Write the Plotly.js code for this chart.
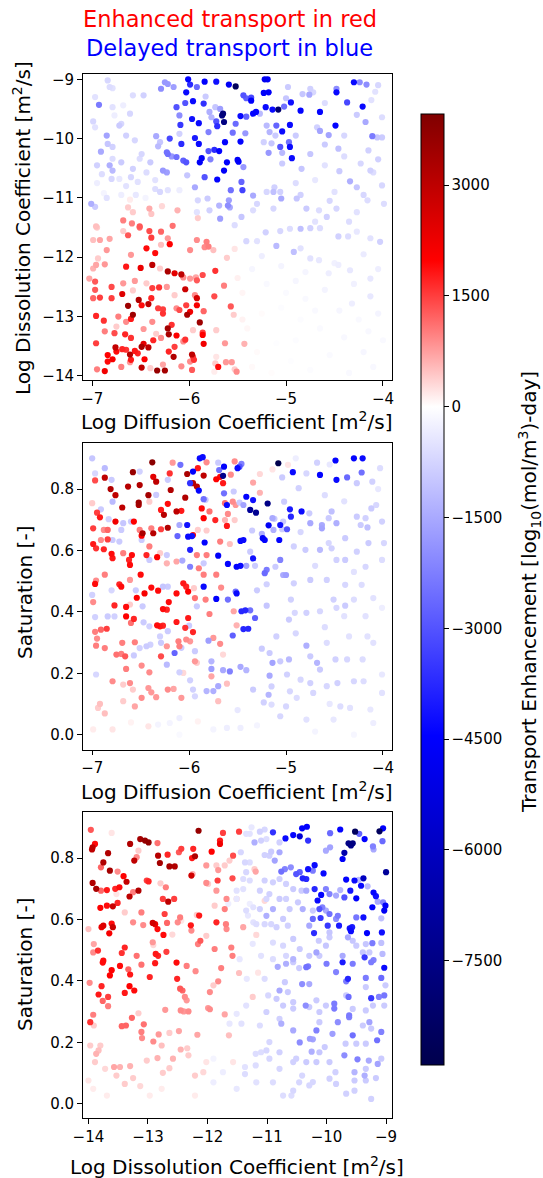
<!DOCTYPE html>
<html>
<head>
<meta charset="utf-8">
<script src="https://cdn.plot.ly/plotly-3.0.1.min.js"></script>
<style>html,body{margin:0;padding:0;background:#fff;}#chart{width:543px;height:1178px;}</style>
</head>
<body>
<div id="chart"></div>
<script>
// ---- DATA: [x, y, transport enhancement value] ----
// Panel 1: Log Diffusion Coefficient (x) vs Log Dissolution Coefficient (y)
const logD_logK_upper = [
[-6.84,-9.02,-700],[-6.82,-9.13,-600],[-6.79,-9.15,-500],[-6.97,-9.30,-500],[-6.93,-9.43,-2300],[-6.99,-9.71,-700],[-6.97,-9.81,-500],[-6.85,-9.95,-1600],[-6.84,-10.09,-1000],[-6.91,-10.22,-1500],[-6.79,-10.14,-800],[-6.72,-9.78,-900],[-6.70,-9.75,-700],[-6.79,-9.47,-500],[-6.77,-9.61,-300],[-6.68,-9.44,-300],[-6.61,-9.58,-700],[-6.58,-9.27,-600],[-6.47,-9.27,-800],[-6.65,-9.95,-800],[-6.56,-10.03,-700],[-6.49,-10.26,-700],[-6.51,-10.34,-600],[-6.79,-10.34,-600],[-6.82,-10.45,-1400],[-6.79,-10.54,-1200],[-6.80,-10.68,-700],[-6.58,-10.51,-800],[-6.72,-10.68,-400],[-6.53,-10.73,-500],[-6.44,-10.57,-600],[-7.01,-11.10,-1400],[-6.97,-11.15,-900],
[-6.95,-10.75,-300],[-6.88,-10.92,-200],[-6.70,-10.95,-300],[-6.45,-11.00,-200],
[-6.90,-10.60,-600],[-6.65,-10.80,-500],[-6.55,-10.95,-400],[-6.85,-11.00,-500],[-6.35,-10.70,-500],[-6.60,-10.65,-700],[-6.40,-10.40,-900],[-6.70,-10.40,-900],[-6.95,-10.45,-800],
[-6.61,-11.03,150],[-6.63,-11.16,400],[-6.58,-11.24,400],[-6.41,-11.18,650],[-6.39,-11.27,450],[-6.28,-11.14,300],[-6.12,-11.21,600],[-6.68,-11.38,1000],[-6.59,-11.43,1000],[-6.51,-11.48,1300],[-6.17,-11.47,1100],[-5.91,-11.34,400],[-6.96,-11.48,500],
[-6.29,-9.16,-2000],[-6.25,-9.05,-1800],[-6.22,-9.08,-1800],[-6.16,-9.13,-1700],[-6.01,-9.00,-4400],[-5.99,-9.09,-3700],[-6.03,-9.22,-4300],[-5.92,-9.13,-2600],[-5.84,-9.04,-4500],[-5.72,-9.04,-4200],[-5.59,-9.09,-4700],[-5.52,-9.12,-8500],[-5.83,-9.29,-900],[-5.96,-9.37,-4300],[-6.04,-9.40,-3000],[-6.13,-9.47,-3000],[-5.85,-9.41,-3600],[-5.73,-9.47,-1000],[-5.79,-9.55,-1400],[-6.10,-9.61,-2000],[-5.97,-9.67,-4200],[-6.09,-9.77,-3500],[-5.90,-9.74,-4300],[-5.80,-9.89,-2200],[-5.71,-9.79,-3700],[-5.65,-9.58,-7800],[-5.66,-9.61,-7600],[-5.64,-9.72,-7600],[-5.72,-9.71,-3000],[-5.68,-9.50,-1700],[-5.77,-9.64,-1300],
[-6.20,-10.00,-3200],[-6.08,-10.09,-3700],[-6.10,-9.92,-800],[-5.94,-9.99,-4000],[-5.90,-10.09,-4300],[-5.80,-10.21,-3000],[-5.74,-10.19,-3700],[-5.69,-10.21,-4400],[-5.63,-10.06,-4400],[-5.87,-10.33,-4600],[-5.89,-10.40,-4600],[-5.78,-10.35,-2200],[-6.03,-10.40,-3000],[-6.06,-10.37,-2800],[-6.13,-10.31,-2500],[-6.22,-10.26,-2500],[-6.18,-10.30,-1800],[-6.32,-10.13,-1200],[-6.34,-9.96,-1500],[-6.30,-10.06,-1000],[-6.23,-10.23,-2500],[-6.23,-10.57,-1700],[-6.27,-10.54,-1800],[-6.02,-10.62,-1000],[-5.84,-10.65,-3000],[-5.71,-10.69,-4400],[-5.64,-10.54,-4600],[-5.61,-10.40,-4500],[-5.49,-10.39,-4500],[-5.44,-10.48,-1800],[-5.50,-10.36,-4600],[-5.47,-10.05,-4400],[-5.55,-9.90,-2500],[-5.42,-9.91,-1800],[-5.52,-9.75,-2600],[-5.47,-9.62,-4300],[-5.41,-9.63,-2700],[-5.34,-9.58,-4400],[-5.31,-9.55,-4400],[-5.44,-9.27,-3000],[-5.41,-9.32,-2800],[-5.36,-9.36,-4500],[-5.36,-9.31,-3200],[-5.23,-9.23,-4600],[-5.18,-9.22,-4600],[-5.22,-9.00,-4800],[-5.19,-9.00,-4600],[-5.21,-9.47,-4300],[-5.14,-9.51,-4300],[-5.08,-9.51,-8000],[-5.27,-9.58,-1200],[-5.20,-9.78,-1200],[-5.10,-9.78,-2700],[-5.04,-9.88,-4300],[-4.96,-9.77,-4300],[-4.98,-9.13,-900],[-4.95,-9.39,-4200],[-5.02,-9.46,-2500],[-5.00,-9.32,-1000],[-5.06,-10.14,-3000],[-5.04,-10.24,-1200],[-4.96,-10.14,-4300],[-4.97,-10.06,-2500],[-4.94,-10.33,-4300],[-5.04,-10.42,-900],[-5.18,-10.24,-1800],[-5.15,-10.08,-1000],[-5.17,-9.89,-1300],[-5.11,-9.95,-900],[-5.23,-10.06,-800],
[-4.85,-9.53,-4400],[-4.83,-9.25,-1000],[-4.75,-9.16,-800],[-4.72,-9.22,-700],[-4.76,-9.26,-1500],[-4.65,-9.55,-4400],[-4.68,-9.81,-800],[-4.65,-9.87,-1600],[-4.56,-9.94,-1600],[-4.49,-9.78,-4400],[-4.48,-9.22,-4300],[-4.48,-9.16,-2000],[-4.37,-9.39,-3200],[-4.30,-9.05,-4300],[-4.24,-9.05,-2000],[-4.17,-9.09,-2000],[-4.21,-9.46,-4300],[-4.27,-9.60,-900],[-4.18,-9.72,-1500],[-4.11,-9.96,-2300],[-4.06,-9.98,-1000],[-4.01,-9.98,-900],[-4.05,-9.10,-700],[-4.08,-9.21,-500],[-4.01,-9.64,-600],[-4.46,-10.17,-1100],[-4.60,-10.10,-900],[-4.75,-10.26,-1000],[-4.84,-10.51,-1000],[-4.34,-10.72,-1400],[-4.27,-10.82,-1000],[-4.23,-10.42,-700],[-4.13,-10.54,-800],[-4.10,-10.57,-600],[-4.01,-10.79,-700],[-3.99,-11.10,-600],[-4.16,-11.04,-600],[-4.27,-11.24,-500],[-4.48,-11.18,-700],[-4.58,-11.32,-800],[-4.66,-11.21,-600],[-4.79,-11.18,-900],[-4.89,-11.01,-1000],[-5.05,-11.01,-1500],[-5.13,-10.90,-1100],[-5.12,-10.82,-800],[-5.20,-10.90,-700],[-5.06,-10.90,-800],[-5.34,-10.96,-1500],[-5.46,-10.73,-2700],[-5.45,-10.87,-3300],[-5.57,-10.87,-2500],[-5.60,-11.13,-2000],[-5.58,-11.16,-1500],[-5.69,-11.13,-1300],[-5.59,-11.04,-1700],[-5.30,-11.10,-700],[-5.13,-11.18,-700],[-5.34,-11.21,-600],[-5.46,-11.32,-1000],[-5.68,-11.35,-1700],[-5.79,-11.21,-800],[-5.92,-11.24,-500],[-5.91,-11.04,-700],[-5.94,-10.82,-1500],[-5.81,-11.01,-900],[-6.10,-10.87,-300],[-6.22,-10.87,-500],[-6.30,-10.90,-700],[-6.35,-10.85,-600],
[-4.60,-10.45,-500],[-4.40,-10.30,-600],[-4.70,-10.70,-400],[-4.50,-10.90,-500],[-4.90,-10.75,-600],[-4.15,-10.20,-800],[-4.40,-9.95,-700],[-4.90,-9.95,-900],[-4.60,-9.40,-600],[-4.12,-9.35,-500],
[-4.45,-10.55,-900],[-4.20,-10.95,-700],[-4.55,-11.05,-700],[-4.85,-10.95,-800],[-4.05,-10.35,-800],[-4.70,-11.40,-500],[-4.35,-11.40,-600]
];
const logD_logK_lower = [
[-6.95,-11.50,400],[-6.99,-11.71,500],[-6.92,-11.71,700],[-6.82,-11.69,700],[-6.85,-11.88,800],[-6.68,-11.56,400],[-6.63,-11.63,1300],[-6.51,-11.50,1100],[-6.41,-11.56,1400],[-6.29,-11.57,1200],[-6.39,-11.67,1500],[-6.20,-11.78,2000],[-6.44,-11.85,1900],[-6.35,-11.93,1900],[-6.29,-11.79,500],[-6.22,-11.68,800],[-6.60,-11.96,800],[-6.94,-12.02,400],[-6.96,-12.13,700],[-6.99,-12.19,600],[-6.87,-12.12,800],[-6.65,-12.16,1800],[-6.50,-12.18,2300],[-6.38,-12.13,3000],[-6.30,-12.19,400],[-6.22,-12.24,3300],[-6.15,-12.27,2400],[-6.08,-12.29,3000],[-6.06,-12.34,900],[-5.99,-12.36,800],[-5.93,-12.34,700],[-5.86,-12.30,1400],[-5.73,-12.23,1600],[-5.99,-11.88,900],[-5.92,-11.71,900],[-5.82,-11.74,1000],[-5.80,-11.82,1000],[-5.84,-11.83,900],[-5.75,-11.88,500],[-5.61,-12.01,400],[-5.53,-11.86,200],
[-7.03,-12.36,700],[-6.97,-12.41,1300],[-6.97,-12.55,1300],[-6.99,-12.69,1200],[-6.92,-12.68,1500],[-6.80,-12.50,1400],[-6.80,-12.69,1500],[-6.68,-12.44,800],[-6.69,-12.62,2500],[-6.56,-12.40,800],[-6.58,-12.56,400],[-6.44,-12.44,400],[-6.38,-12.52,1500],[-6.31,-12.51,1600],[-6.23,-12.50,800],[-6.15,-12.64,400],[-6.04,-12.54,2800],[-5.92,-12.39,1300],[-5.94,-12.64,900],[-5.92,-12.69,2600],[-5.92,-12.81,2100],[-5.74,-12.66,1400],[-5.64,-12.48,1000],[-5.57,-12.83,1300],[-5.54,-12.97,400],[-6.52,-12.72,3200],[-6.63,-12.82,3500],[-6.49,-12.81,1900],[-6.42,-12.79,3000],[-6.39,-12.69,1700],[-6.32,-12.86,1500],[-6.27,-12.95,1600],[-6.27,-12.88,1500],[-6.13,-12.86,900],[-6.10,-12.89,1400],[-6.03,-12.81,1500],[-6.02,-12.97,3300],[-5.99,-12.92,2200],[-5.85,-12.91,1200],[-5.89,-13.10,3500],
[-6.96,-12.99,1700],[-6.88,-13.07,1600],[-6.73,-13.00,1000],[-6.58,-12.97,3500],[-6.60,-13.04,1800],[-6.65,-13.09,900],[-6.75,-13.17,400],[-6.87,-13.25,1000],[-6.77,-13.28,1400],[-6.66,-13.30,1700],[-6.60,-13.36,1600],[-6.47,-13.21,800],[-6.38,-13.09,900],[-6.37,-13.40,1700],[-6.34,-13.29,400],[-6.22,-13.20,3400],[-6.21,-13.30,3300],[-6.13,-13.32,2000],[-6.18,-13.14,1600],[-6.29,-13.36,900],[-6.06,-13.42,900],[-6.04,-13.39,1600],[-5.96,-13.23,400],[-5.86,-13.31,2000],[-5.85,-13.46,2200],[-5.86,-13.27,1500],[-5.72,-13.23,400],
[-6.96,-13.45,1500],[-6.76,-13.52,2900],[-6.75,-13.59,1900],[-6.65,-13.56,1600],[-6.69,-13.55,1700],[-6.56,-13.58,1800],[-6.47,-13.46,2400],[-6.49,-13.51,3300],[-6.42,-13.52,3000],[-6.53,-13.62,1700],[-6.61,-13.64,3100],[-6.84,-13.65,2000],[-6.84,-13.76,1900],[-6.79,-13.72,2100],[-6.87,-13.92,2200],[-6.95,-13.89,1000],[-6.70,-13.85,1000],[-6.61,-13.77,800],[-6.60,-13.73,1800],[-6.46,-13.72,2000],[-6.49,-13.86,3000],[-6.40,-13.87,400],[-6.33,-13.91,3600],[-6.25,-13.91,3400],[-6.27,-13.81,700],[-6.16,-13.68,3200],[-6.21,-13.59,1700],[-6.15,-13.51,1500],[-6.08,-13.84,900],[-5.97,-13.90,1300],[-5.99,-13.76,900],[-5.96,-13.68,1500],[-5.97,-13.64,3000],[-5.95,-13.73,1600],[-5.70,-13.85,1900],[-5.73,-13.79,400],[-5.72,-13.68,200],[-5.62,-13.77,800],[-5.56,-13.77,800],[-5.51,-13.93,900],[-5.53,-13.89,400],[-5.74,-13.93,150],[-5.63,-13.45,800],[-5.43,-13.46,600],
[-5.53,-11.46,-600],[-5.41,-11.73,-700],[-5.30,-11.73,-500],[-5.10,-11.81,-1200],[-5.21,-11.58,-800],[-5.06,-11.56,-700],[-4.96,-11.52,-600],[-4.85,-11.52,-1100],[-4.75,-11.51,-800],[-4.65,-11.51,-600],[-4.92,-11.91,-1100],[-4.85,-11.85,-500],[-4.75,-12.02,-500],[-4.66,-12.05,-400],[-4.46,-11.65,-800],[-4.36,-11.65,-600],[-4.27,-11.57,-400],[-4.13,-11.68,-500],[-4.03,-11.74,-800],[-4.13,-12.36,-400],[-4.13,-12.66,-400],[-4.34,-12.22,-400],[-4.56,-12.27,-300],[-4.46,-12.13,-300],[-4.32,-12.78,-300],
[-5.35,-12.20,-150],[-5.20,-12.45,-100],[-5.05,-12.15,-200],[-4.90,-12.40,-150],[-4.80,-12.70,-100],[-4.60,-12.55,-200],[-4.45,-12.90,-150],[-4.25,-13.05,-100],[-4.05,-12.95,-200],[-4.00,-13.40,-100],[-4.20,-13.60,-150],[-4.40,-13.35,-120],[-4.65,-13.20,-80],[-4.85,-13.05,-50],[-5.05,-12.85,-60],[-5.25,-12.95,30],[-5.40,-13.20,60],[-5.30,-13.60,40],[-5.10,-13.45,-40],[-4.95,-13.75,-30],[-4.75,-13.90,-60],[-4.55,-13.65,-90],[-4.35,-13.95,-100],[-4.10,-13.85,-120],[-5.15,-13.95,20],[-5.45,-12.60,80],[-5.50,-12.35,120],[-5.35,-13.85,50],[-4.70,-12.90,-100],[-4.30,-12.45,-250],[-4.05,-12.20,-300],[-4.90,-13.40,-60],[-5.00,-12.60,-90],[-4.50,-12.10,-250],[-4.20,-11.95,-350],[-5.25,-11.98,-300],[-5.45,-13.05,100],[-4.15,-13.25,-130],[-4.80,-12.25,-180]
];

// Panel 2: Log Diffusion Coefficient (x) vs Saturation (y)
const logD_sat_upper = [
[-7.00,0.900,-1000],[-6.97,0.851,-700],[-6.87,0.868,-1200],[-6.97,0.828,1400],[-6.87,0.837,3000],[-6.80,0.830,-900],[-6.81,0.800,3200],[-6.76,0.780,3000],[-6.79,0.759,-1200],[-7.00,0.754,400],[-6.95,0.723,1500],[-6.92,0.708,1800],[-6.91,0.734,-900],[-6.83,0.702,-800],[-6.76,0.694,2200],[-6.69,0.740,3000],[-6.63,0.808,3100],[-6.58,0.855,3600],[-6.51,0.813,3200],[-6.51,0.857,-800],[-6.38,0.887,3800],[-6.37,0.840,2400],[-6.34,0.824,3000],[-6.42,0.780,3400],[-6.41,0.759,400],[-6.52,0.756,3500],[-6.52,0.748,3300],[-6.34,0.781,-900],[-6.29,0.732,1800],[-6.26,0.716,3100],[-6.22,0.752,1900],[-6.19,0.797,3200],[-6.22,0.830,-900],[-6.17,0.886,800],[-6.20,0.851,1600],[-6.09,0.879,-2500],[-6.13,0.727,3000],[-6.08,0.729,1800],[-6.04,0.772,3200],[-6.02,0.849,3300],[-5.99,0.819,-3600],[-5.96,0.857,-4500],[-5.90,0.795,-4400],[-5.96,0.819,3100],[-5.92,0.808,3000],[-5.89,0.900,-4300],[-5.86,0.904,-4300],[-5.82,0.887,900],[-5.85,0.844,3000],[-5.91,0.868,1800],[-5.83,0.765,-900],[-5.85,0.767,-2500],[-5.87,0.737,1900],[-5.79,0.727,1100],[-5.85,0.705,2000],[-5.73,0.699,1700],[-5.82,0.665,400],[-5.70,0.886,-900],[-5.69,0.862,-2500],[-5.64,0.873,-4500],[-5.65,0.843,-7300],[-5.65,0.819,1800],[-5.72,0.832,2000],[-5.68,0.840,1900],[-5.57,0.847,900],[-5.53,0.890,900],[-5.50,0.868,-4300],[-5.46,0.882,-2200],[-5.48,0.873,-3000],[-5.64,0.786,-2500],[-5.54,0.792,-900],[-5.63,0.754,1100],[-5.61,0.748,-4300],[-5.55,0.759,900],[-5.52,0.748,800],[-5.48,0.756,-900],[-5.44,0.748,-1600],[-5.60,0.719,900],[-5.41,0.775,-4400],[-5.34,0.764,-4200],[-5.37,0.732,-7000],[-5.31,0.723,-7200],[-5.19,0.753,-7500],[-5.34,0.821,700],[-5.27,0.849,300],[-5.27,0.788,600],[-5.14,0.864,200],[-5.08,0.884,-8900],[-4.98,0.879,200],[-4.93,0.855,-4300],[-5.04,0.838,-900],[-5.02,0.759,-900],[-4.96,0.734,-4000],[-4.95,0.710,-3800],[-5.03,0.694,-900],[-5.12,0.703,-900],[-5.18,0.682,-4700],[-5.14,0.705,-1500],[-4.99,0.669,-3000],[-5.24,0.640,-4600],[-5.22,0.634,-4400],[-5.35,0.665,-900],[-5.47,0.631,-4300],[-5.58,0.621,500],[-5.68,0.629,1000],[-5.84,0.626,-4400],[-5.97,0.647,-4200],[-6.01,0.645,-4300],[-5.96,0.650,1900],[-5.91,0.667,400],[-6.02,0.683,-4200],[-6.10,0.683,-1500],[-6.12,0.647,-2700],[-6.22,0.674,3200],[-6.29,0.669,1500],[-6.39,0.672,1000],[-6.37,0.656,3100],[-6.48,0.656,3300],[-6.51,0.667,1000],[-6.49,0.634,-900],[-6.49,0.648,2000],[-6.57,0.694,2000],[-6.60,0.694,-900],[-6.68,0.689,-1000],[-6.70,0.667,-900],[-6.88,0.667,900],[-6.84,0.667,1200],[-6.99,0.672,1500],[-6.99,0.621,1800],[-6.96,0.607,1600],[-6.88,0.604,1700],[-6.84,0.636,1500],[-6.91,0.634,900],[-6.79,0.634,-900],[-6.72,0.629,-900],[-6.80,0.589,1900],[-6.79,0.575,1800],[-6.68,0.591,1000],[-6.62,0.569,1700],[-6.61,0.553,1900],[-6.59,0.585,1900],[-6.44,0.585,1700],[-6.41,0.613,1000],[-6.33,0.578,2000],[-6.41,0.569,-900],[-6.30,0.591,400],[-6.23,0.585,-900],[-6.23,0.558,600],[-6.13,0.564,700],[-6.07,0.567,-1500],[-5.99,0.547,-2200],[-5.99,0.602,-3900],[-5.92,0.585,1000],[-5.90,0.542,1000],[-5.85,0.558,-900],[-5.82,0.585,1000],[-5.70,0.583,-4600],[-5.60,0.556,-4400],[-5.47,0.550,-4300],[-5.41,0.550,-1600],[-5.34,0.574,-4200],[-5.32,0.550,-900],[-5.22,0.526,-2600],[-5.20,0.537,-2300],[-5.11,0.547,-900],[-5.06,0.569,-2200],[-5.00,0.520,-1700],[-5.51,0.547,-4400],[-5.37,0.596,-900],[-5.44,0.634,-4300],[-5.07,0.634,-4400],[-5.04,0.669,-900],[-5.06,0.683,-4200],[-5.13,0.667,-1400],[-5.25,0.654,-1400],[-5.53,0.699,400],[-5.61,0.680,1800],[-5.63,0.699,600],
[-6.97,0.491,1900],[-6.96,0.502,900],[-6.87,0.521,1000],[-6.72,0.490,1700],[-6.70,0.482,1900],[-6.61,0.504,800],[-6.50,0.521,1900],[-6.39,0.479,1900],[-6.32,0.469,1900],[-6.27,0.482,-1000],[-6.22,0.482,-900],[-6.06,0.493,1800],[-6.03,0.482,1700],[-6.01,0.466,2000],[-5.95,0.477,400],[-5.85,0.521,1000],[-5.85,0.482,-4300],[-5.72,0.521,1000],[-5.67,0.479,900],[-5.52,0.466,-2500],[-5.30,0.470,-900],[-5.20,0.490,-800],[-7.00,0.455,-800],[-6.80,0.470,-700],[-6.55,0.470,-900],
[-4.84,0.727,-4300],[-4.65,0.846,-4400],[-4.49,0.893,-4400],[-4.48,0.830,-4300],[-4.37,0.838,-2600],[-4.30,0.900,-4400],[-4.21,0.900,-4300],[-4.22,0.854,-2500],[-4.27,0.819,-900],[-4.11,0.824,-800],[-4.03,0.868,-600],[-4.68,0.886,-800],[-4.79,0.851,-700],[-4.87,0.803,-800],[-4.76,0.721,-900],[-4.75,0.689,-1500],[-4.63,0.672,-1600],[-4.63,0.683,-1500],[-4.56,0.705,-900],[-4.53,0.727,-1100],[-4.48,0.689,-1400],[-4.27,0.710,-900],[-4.18,0.705,-800],[-4.16,0.675,-1100],[-4.23,0.683,-900],[-4.07,0.748,-700],[-4.12,0.737,-900],[-4.01,0.694,-800],[-3.99,0.624,-700],[-4.15,0.624,-900],[-4.27,0.596,-800],[-4.39,0.640,-900],[-4.53,0.607,-800],[-4.56,0.624,-700],[-4.65,0.602,-1200],[-4.80,0.602,-900],[-4.92,0.613,-800],[-4.48,0.569,-800],[-4.39,0.569,-900],[-4.18,0.547,-700],[-4.01,0.569,-600],[-4.22,0.488,-600],[-4.39,0.488,-700],[-4.58,0.504,-800],[-4.75,0.504,-900],[-4.92,0.493,-800],[-5.03,0.520,-1500],
[-4.60,0.780,-600],[-4.40,0.760,-500],[-4.85,0.660,-700],[-4.30,0.530,-500],[-4.70,0.550,-600],[-4.05,0.800,-400],[-4.90,0.900,-300],[-4.55,0.880,-400]
];
const logD_sat_lower = [
[-6.99,0.432,900],[-6.77,0.421,1700],[-6.65,0.416,1900],[-6.54,0.446,2000],[-6.46,0.460,2100],[-6.61,0.424,400],[-6.48,0.418,-900],[-6.27,0.409,1900],[-6.23,0.407,1700],[-6.21,0.432,1900],[-6.13,0.460,1900],[-5.94,0.445,1100],[-5.83,0.440,1000],[-5.92,0.418,-900],[-5.72,0.442,-4500],[-5.60,0.440,-2500],[-5.51,0.460,-4300],[-5.46,0.402,-3800],[-5.42,0.405,-3800],[-5.37,0.405,-2500],[-5.44,0.344,-3800],[-5.39,0.345,-3800],[-5.32,0.380,-2800],[-5.55,0.323,-2800],[-5.54,0.402,700],[-5.51,0.356,600],[-5.79,0.393,1000],[-5.68,0.296,900],[-5.75,0.315,800],[-5.80,0.306,-1700],[-5.65,0.261,300],[-5.77,0.239,-1300],[-5.77,0.214,-1700],[-5.65,0.210,-1500],[-5.58,0.206,-2200],[-5.61,0.166,500],[-5.77,0.190,700],[-5.70,0.158,-1500],[-5.75,0.142,-1400],[-5.82,0.142,-1300],[-5.70,0.109,500],[-5.47,0.221,-1500],[-5.41,0.210,-1300],[-5.34,0.147,-900],[-5.17,0.192,-1500],[-5.14,0.234,-1600],[-5.06,0.239,-900],[-5.17,0.266,-900],[-4.97,0.245,-1200],[-5.18,0.130,-1300],[-5.23,0.105,-800],[-5.06,0.060,-700],
[-6.97,0.383,-800],[-6.84,0.385,-900],[-6.77,0.385,-800],[-6.65,0.385,2000],[-6.57,0.377,1700],[-6.60,0.364,1100],[-6.47,0.366,-900],[-6.41,0.353,-800],[-6.33,0.356,1900],[-6.30,0.353,1800],[-6.27,0.355,1700],[-6.13,0.367,1800],[-6.01,0.380,1800],[-6.04,0.348,1600],[-5.96,0.334,1700],[-6.00,0.355,-900],[-6.97,0.335,1000],[-6.91,0.342,1200],[-6.85,0.345,1500],[-6.95,0.313,900],[-6.96,0.290,1000],[-6.87,0.282,1000],[-6.69,0.299,1000],[-6.56,0.301,1000],[-6.75,0.261,1100],[-6.70,0.263,1000],[-6.66,0.255,1300],[-6.57,0.258,-900],[-6.29,0.255,1400],[-6.11,0.304,1000],[-6.10,0.288,1000],[-6.03,0.310,900],[-5.99,0.304,800],[-6.15,0.266,-2700],[-6.08,0.283,-900],[-6.29,0.299,-900],[-6.30,0.320,-800],[-6.22,0.337,-900],[-6.23,0.288,800],[-6.40,0.293,-800],[-6.51,0.282,-800],[-6.44,0.288,-900],[-5.94,0.239,800],[-5.92,0.234,400],[-5.94,0.272,-900],[-6.49,0.225,900],[-6.65,0.214,1000],[-6.41,0.203,900],[-6.23,0.228,-1200],[-6.10,0.203,-800],[-6.06,0.201,300],[-5.99,0.177,-800],[-6.96,0.196,-700],[-6.79,0.174,900],[-6.68,0.163,400],[-6.61,0.168,900],[-6.58,0.147,400],[-6.42,0.152,800],[-6.39,0.138,800],[-6.34,0.122,800],[-6.49,0.120,900],[-6.22,0.147,900],[-6.16,0.149,700],[-6.08,0.120,800],[-5.96,0.147,-800],[-5.94,0.125,-700],[-6.92,0.100,500],[-6.94,0.087,400],[-6.68,0.109,400],[-6.56,0.092,700],[-6.87,0.069,500],[-6.99,0.017,150],[-6.79,0.017,200],[-6.42,0.027,200],[-6.32,0.033,-200],[-6.20,0.038,-200],[-6.10,0.054,-300],[-5.91,0.043,100],[-5.75,0.017,-200],[-5.61,0.022,-300],[-5.47,0.022,-300],[-6.60,0.040,100],[-5.30,0.030,-200],[-4.70,0.010,-200],[-4.30,0.000,-150],[-6.10,0.000,-100],[-5.50,0.080,-400],
[-4.97,0.375,-900],[-4.91,0.397,-700],[-4.79,0.397,-800],[-4.65,0.402,-700],[-4.51,0.440,-800],[-4.48,0.413,-700],[-4.39,0.420,-900],[-4.30,0.440,-600],[-4.10,0.445,-500],[-4.01,0.413,-300],[-4.79,0.290,-1400],[-4.68,0.234,-1300],[-4.75,0.255,-900],[-4.49,0.245,-800],[-4.37,0.245,-700],[-4.21,0.245,-600],[-4.20,0.174,-600],[-4.30,0.174,-700],[-4.47,0.168,-800],[-4.58,0.158,-700],[-4.75,0.168,-800],[-4.85,0.179,-700],[-4.99,0.196,-800],[-4.65,0.212,-900],[-4.89,0.120,-600],[-4.72,0.136,-700],[-4.44,0.092,-600],[-4.34,0.087,-500],[-4.13,0.082,-400],[-4.01,0.136,-500],[-5.00,0.092,-700],[-4.79,0.049,-500],[-4.51,0.049,-400],[-4.10,0.038,-300],[-4.96,0.141,-700],[-5.15,0.157,-800],[-5.15,0.098,-600],[-4.16,0.320,-500],[-4.10,0.299,-500],[-4.58,0.299,-600],[-4.40,0.386,-500],[-4.18,0.386,-500],[-4.01,0.196,-400],
[-4.90,0.330,-700],[-4.60,0.350,-600],[-4.35,0.320,-500],[-5.10,0.320,-800],[-5.25,0.280,-900],[-4.95,0.440,-800],[-5.20,0.420,-1000],[-4.55,0.100,-400]
];

// Panel 3: Log Dissolution Coefficient (x) vs Saturation (y)
const logK_sat_upper = [
[-13.96,0.892,1300],[-13.61,0.882,200],[-13.89,0.846,1900],[-13.93,0.835,2900],[-13.94,0.828,3000],[-13.67,0.816,3200],[-13.75,0.786,3200],[-13.79,0.770,1200],[-13.64,0.759,3400],[-13.51,0.756,900],[-13.41,0.741,2000],[-13.36,0.723,2900],[-13.93,0.719,3200],[-13.87,0.700,3300],[-13.79,0.694,1200],[-13.69,0.696,1800],[-13.55,0.700,1700],[-13.48,0.705,1900],[-13.31,0.675,3000],[-13.16,0.694,3200],[-13.25,0.689,1000],[-13.51,0.654,1700],[-13.59,0.643,2800],[-13.69,0.645,1900],[-13.80,0.638,2000],[-13.30,0.846,3200],[-13.16,0.824,400],[-13.19,0.803,900],[-13.23,0.792,3000],[-13.13,0.862,3400],[-13.05,0.857,3600],[-12.99,0.851,3700],[-12.84,0.849,1100],[-12.83,0.808,3100],[-12.80,0.784,3400],[-12.67,0.811,1700],[-12.64,0.773,3300],[-12.55,0.773,3200],[-12.48,0.819,1300],[-12.44,0.830,1500],[-12.24,0.830,1700],[-12.21,0.806,3200],[-12.26,0.800,1800],[-12.15,0.889,3600],[-12.25,0.748,600],[-12.27,0.743,2700],[-12.02,0.776,800],[-11.74,0.882,1500],[-11.47,0.886,1500],[-11.79,0.857,1800],[-11.79,0.846,2200],[-11.93,0.821,2000],[-11.85,0.776,400],[-11.82,0.761,800],[-11.71,0.776,400],[-11.57,0.808,1400],[-11.63,0.792,400],[-11.58,0.734,1400],[-11.83,0.727,1500],[-12.02,0.719,900],[-12.79,0.718,400],[-12.75,0.667,1500],[-12.70,0.705,1000],[-12.66,0.658,3000],[-12.56,0.667,1500],[-12.18,0.615,400],[-12.14,0.613,1800],[-12.46,0.607,1000],[-12.50,0.591,900],[-12.72,0.618,1500],[-12.88,0.585,2300],[-12.92,0.589,2700],[-12.68,0.589,1200],[-12.84,0.569,1900],[-12.74,0.550,1900],[-12.59,0.551,300],[-13.02,0.727,1500],[-12.99,0.724,1700],[-13.11,0.623,1000],[-13.25,0.591,900],[-13.39,0.623,400],[-13.53,0.683,200],[-13.75,0.580,2500],[-13.78,0.575,2300],[-13.61,0.587,1900],[-13.65,0.555,2100],[-13.59,0.575,2800],[-14.00,0.569,500],[-13.91,0.520,700],[-13.92,0.493,900],[-13.84,0.499,1600],[-13.75,0.466,1900],[-13.44,0.491,1600],[-13.39,0.509,1700],[-13.19,0.482,1100],[-12.92,0.526,800],[-12.91,0.517,300],[-12.83,0.482,1700],[-12.87,0.488,1800],[-12.69,0.495,1500],[-13.08,0.582,900],[-12.44,0.596,200],[-12.28,0.581,1800],[-12.27,0.564,900],[-12.16,0.520,1000],[-12.12,0.531,1300],[-12.02,0.547,400],[-11.88,0.504,1000],[-11.85,0.591,1700],[-11.69,0.585,1000],[-11.68,0.569,900],[-11.60,0.509,1000],[-11.58,0.482,1000],[-11.40,0.575,700],[-11.18,0.550,300],[-11.21,0.764,400],[-11.19,0.756,700],[-11.01,0.667,-700],[-11.85,0.694,800],[-11.68,0.667,900],[-11.71,0.634,1000],[-11.65,0.651,-300],[-11.51,0.667,400],[-11.40,0.699,-500],[-11.29,0.651,-300],[-11.04,0.661,300],[-11.99,0.716,400],[-11.88,0.645,400],
[-11.12,0.886,-800],[-11.04,0.893,-700],[-11.21,0.851,-1400],[-11.10,0.857,-800],[-10.90,0.884,-3600],[-10.69,0.864,-4300],[-10.56,0.875,-4400],[-10.45,0.871,-5500],[-10.41,0.897,-4500],[-10.33,0.902,-4500],[-10.31,0.857,-3600],[-10.79,0.851,-800],[-10.79,0.819,-1500],[-10.87,0.792,-1600],[-10.76,0.756,-2500],[-10.70,0.764,-2200],[-10.60,0.770,-2000],[-10.51,0.748,-3000],[-10.45,0.754,-2800],[-10.40,0.734,-3900],[-10.34,0.732,-3800],[-10.31,0.764,-4200],[-10.20,0.777,-4300],[-10.23,0.759,-2300],[-10.05,0.750,-4300],[-9.94,0.835,-1600],[-10.01,0.824,-1500],[-9.77,0.893,-4400],[-9.94,0.881,-2600],[-9.70,0.817,-6500],[-9.73,0.797,-4600],[-9.63,0.848,-7500],[-9.56,0.848,-7600],[-9.59,0.841,-7400],[-9.52,0.886,-8500],[-9.45,0.879,-2700],[-9.36,0.862,-4400],[-9.38,0.734,-6000],[-9.46,0.729,-1200],[-9.53,0.727,-4300],[-9.42,0.710,-4300],[-9.67,0.730,-4400],[-9.60,0.694,-4100],[-9.77,0.696,-1300],[-9.70,0.672,-3000],[-9.50,0.669,-4500],[-9.31,0.708,-1200],[-9.21,0.688,-4400],[-9.17,0.676,-4200],[-9.21,0.828,-1500],[-9.22,0.838,-2200],[-9.11,0.887,-8500],[-9.05,0.897,-4500],[-9.06,0.855,-2600],[-9.00,0.754,-7000],[-9.01,0.645,-4600],[-9.03,0.629,-4700],[-9.05,0.656,-2200],[-9.08,0.604,-1100],[-9.23,0.640,-4500],[-9.14,0.658,-1500],[-9.38,0.607,-4200],[-9.50,0.607,-2400],[-9.57,0.575,-4000],[-9.59,0.562,-4300],[-9.61,0.571,-4200],[-9.32,0.556,-4500],[-9.23,0.523,-2300],[-9.34,0.520,-1000],[-9.07,0.558,-4200],[-9.08,0.524,-1100],[-9.06,0.488,-1200],[-9.21,0.468,-2200],[-9.36,0.477,-3500],[-9.84,0.678,-1500],[-9.95,0.683,-2200],[-10.01,0.699,-2200],[-10.09,0.680,-4400],[-10.15,0.662,-4300],[-10.20,0.699,-3800],[-10.12,0.634,-3000],[-10.07,0.640,-2200],[-10.01,0.629,-1500],[-9.95,0.618,-2500],[-9.81,0.612,-2300],[-10.23,0.602,-2600],[-10.10,0.605,-3500],[-9.98,0.580,-3500],[-9.95,0.558,-1000],[-9.79,0.580,-4000],[-9.84,0.602,-2000],[-9.95,0.542,-900],[-10.29,0.580,-1500],[-10.21,0.556,-3700],[-10.13,0.531,-900],[-10.01,0.515,-1000],[-9.64,0.542,-1500],[-9.56,0.531,-1000],[-9.50,0.515,-900],[-9.39,0.493,-1000],[-9.28,0.493,-900],[-10.45,0.504,-900],[-10.29,0.482,-900],[-10.17,0.493,-1600],[-10.12,0.482,-900],[-9.73,0.482,-1500],[-10.56,0.537,-900],[-10.65,0.580,-800],[-10.73,0.602,-900],[-10.84,0.575,-800],[-10.93,0.585,-700],[-11.04,0.585,-700],[-11.01,0.612,-1400],[-11.12,0.634,-800],[-10.90,0.634,-1400],[-10.79,0.667,-900],[-10.68,0.667,-800],[-10.56,0.699,-900],[-10.42,0.694,-900],[-10.34,0.694,-1500],[-10.62,0.634,-900],[-10.48,0.656,-900],[-10.40,0.634,-1400],[-10.23,0.629,-900],[-10.68,0.716,-800],[-10.79,0.732,-800],[-10.90,0.721,-800],[-11.04,0.727,-800],[-10.96,0.683,-800],[-11.12,0.694,-800],[-11.29,0.727,-600],[-11.40,0.732,-600],[-11.35,0.754,-700],[-11.44,0.819,-700],[-11.37,0.786,-700],[-11.29,0.786,-600],[-11.04,0.810,-800],[-10.96,0.808,-800],[-10.93,0.821,-900],[-11.01,0.862,-600],[-11.29,0.879,-500],[-11.26,0.900,-400],[-11.35,0.879,-500],[-11.51,0.694,-500],[-11.51,0.667,-400],[-11.23,0.640,-500],[-11.35,0.629,-600],[-11.32,0.613,-400],[-11.23,0.591,-500],[-11.18,0.585,-600],[-11.24,0.521,-400],[-10.90,0.525,-600],[-10.73,0.515,-700],[-10.68,0.482,-700],[-10.56,0.471,-1300],[-10.90,0.471,-600],[-11.10,0.482,-500],[-11.46,0.471,-400]
];
const logK_sat_lower = [
[-13.76,0.460,1900],[-13.61,0.435,2000],[-13.64,0.418,2000],[-13.47,0.449,1900],[-13.33,0.438,1200],[-13.30,0.421,1800],[-13.11,0.453,1100],[-12.97,0.413,1700],[-12.88,0.458,1800],[-12.52,0.460,1900],[-12.51,0.407,1700],[-12.35,0.449,1000],[-12.20,0.432,900],[-11.77,0.442,1000],[-11.47,0.426,500],[-11.15,0.427,200],[-13.98,0.394,900],[-13.78,0.383,1700],[-13.83,0.356,1800],[-13.67,0.348,1500],[-13.76,0.335,1200],[-13.67,0.318,1000],[-13.39,0.361,1800],[-13.31,0.383,2000],[-13.23,0.369,1900],[-13.92,0.290,1000],[-13.97,0.266,1600],[-13.91,0.255,400],[-13.44,0.253,1200],[-13.37,0.255,1200],[-13.27,0.280,1200],[-13.16,0.295,400],[-13.07,0.259,1100],[-13.11,0.234,1000],[-13.10,0.214,900],[-12.91,0.203,900],[-12.82,0.226,800],[-12.64,0.231,400],[-12.48,0.237,700],[-12.71,0.306,800],[-12.45,0.304,900],[-12.40,0.301,800],[-12.32,0.301,900],[-12.35,0.337,800],[-12.38,0.348,900],[-12.46,0.375,1300],[-12.42,0.369,1200],[-11.99,0.312,800],[-11.96,0.308,900],[-11.96,0.364,900],[-11.71,0.291,700],[-11.64,0.223,500],[-12.17,0.225,700],[-11.90,0.386,400],[-11.82,0.399,900],[-11.24,0.348,400],[-12.77,0.190,500],[-12.45,0.177,600],[-12.34,0.181,400],[-12.32,0.158,400],[-12.58,0.147,600],[-12.84,0.149,600],[-12.64,0.116,400],[-12.75,0.101,400],[-13.02,0.141,400],[-13.30,0.123,600],[-13.47,0.120,600],[-13.57,0.120,700],[-13.53,0.092,400],[-13.25,0.084,400],[-13.39,0.065,400],[-13.13,0.058,300],[-13.83,0.174,500],[-13.80,0.190,400],[-13.87,0.163,600],[-13.97,0.190,400],[-13.89,0.136,400],[-13.72,0.114,300],[-14.00,0.076,200],[-12.21,0.092,400],[-12.07,0.103,300],[-12.02,0.136,200],[-11.57,0.136,200],[-12.21,0.027,150],[-12.77,0.049,150],[-12.97,0.027,150],[-13.69,0.027,150],[-13.92,0.049,150],
[-10.82,0.446,-1500],[-10.68,0.456,-1400],[-10.56,0.461,-900],[-10.46,0.442,-900],[-10.34,0.445,-2500],[-10.31,0.448,-2300],[-10.00,0.456,-2300],[-9.84,0.429,-2200],[-9.73,0.461,-4000],[-9.64,0.407,-3800],[-9.67,0.399,-2300],[-9.56,0.456,-2300],[-9.34,0.410,-2300],[-9.25,0.461,-2300],[-9.03,0.443,-4300],[-9.08,0.410,-2600],[-9.01,0.386,-900],[-9.25,0.344,-3500],[-9.12,0.348,-2200],[-9.34,0.380,-900],[-9.63,0.348,-2600],[-9.67,0.353,-900],[-9.87,0.326,-2300],[-9.87,0.310,-2300],[-10.01,0.320,-900],[-10.17,0.337,-900],[-10.35,0.320,-2000],[-10.41,0.390,-2000],[-10.29,0.390,-1500],[-10.70,0.396,-900],[-10.79,0.369,-1500],[-10.65,0.364,-900],[-10.56,0.331,-900],[-10.84,0.342,-900],[-11.01,0.299,-800],[-10.79,0.277,-800],[-10.76,0.261,-1400],[-10.56,0.239,-1500],[-10.45,0.200,-2000],[-10.28,0.212,-1700],[-10.23,0.210,-1600],[-10.17,0.239,-2200],[-10.12,0.266,-900],[-9.90,0.228,-1700],[-9.81,0.266,-2000],[-9.62,0.282,-2200],[-9.62,0.288,-2300],[-9.56,0.223,-2500],[-9.39,0.255,-900],[-9.28,0.266,-1600],[-9.25,0.245,-900],[-9.08,0.234,-2200],[-9.15,0.207,-2500],[-9.34,0.196,-900],[-9.50,0.196,-900],[-9.68,0.196,-900],[-10.12,0.168,-1000],[-10.25,0.170,-1400],[-10.03,0.185,-900],[-9.70,0.158,-2000],[-9.48,0.145,-2200],[-9.29,0.141,-1500],[-9.14,0.130,-1600],[-9.08,0.147,-900],[-9.34,0.114,-900],[-9.36,0.092,-1400],[-9.53,0.103,-1300],[-9.53,0.076,-900],[-9.34,0.076,-900],[-9.17,0.084,-900],[-9.25,0.016,-800],[-9.53,0.043,-800],[-9.67,0.033,-800],[-9.85,0.103,-800],[-9.95,0.082,-800],[-9.84,0.065,-800],[-10.23,0.071,-700],[-10.29,0.060,-700],[-10.41,0.092,-700],[-10.56,0.043,-700],[-10.59,0.027,-600],[-10.73,0.027,-600],[-10.79,0.114,-700],[-10.96,0.201,-700],[-10.96,0.147,-700],[-11.10,0.168,-600],[-11.19,0.163,-600],[-11.37,0.120,-500],[-11.37,0.097,-600],[-11.19,0.125,-600],[-11.01,0.174,-700],[-10.79,0.168,-800],[-10.51,0.147,-800],[-10.56,0.136,-800],[-10.34,0.136,-900],[-10.17,0.136,-900],[-9.95,0.136,-900],[-11.04,0.407,-600],[-10.98,0.353,-700],[-11.34,0.407,-400],[-11.35,0.320,-500],[-11.51,0.293,-400],[-11.63,0.261,-400],[-11.43,0.261,-500],[-11.12,0.255,-600],[-10.12,0.299,-900],[-10.29,0.315,-900],[-9.56,0.309,-900],[-9.34,0.304,-900],[-9.03,0.353,-2400],[-9.03,0.320,-900],[-9.22,0.320,-900],[-10.56,0.310,-900],[-10.73,0.320,-900],[-11.18,0.070,-500],[-10.90,0.070,-600],[-11.51,0.049,-400],[-11.90,0.070,-300],[-11.74,0.103,-300],[-11.90,0.147,-200],[-10.46,0.070,-700]
];

// Colour bar tick labels
const cbarTicks = [-7500, -6000, -4500, -3000, -1500, 0, 1500, 3000];
const valueMin = -8912, valueMax = 3963;

// ---- DRAWING ----
function makeTrace(groups, xa, ya) {
  const pts = [].concat(...groups).slice().sort((a, b) => Math.abs(a[2]) - Math.abs(b[2]));
  return {
    type: 'scatter', mode: 'markers', xaxis: xa, yaxis: ya,
    x: pts.map(p => p[0]), y: pts.map(p => p[1]),
    marker: { size: 6.2, color: pts.map(p => p[2]), coloraxis: 'coloraxis', line: { width: 0 } },
    hoverinfo: 'skip', showlegend: false
  };
}
const traces = [
  makeTrace([logD_logK_upper, logD_logK_lower], 'x', 'y'),
  makeTrace([logD_sat_upper, logD_sat_lower], 'x2', 'y2'),
  makeTrace([logK_sat_upper, logK_sat_lower], 'x3', 'y3')
];

const W = 543, H = 1178;
const FONT = 'DejaVu Sans';
const px = v => v / W, py = v => 1 - v / H;
const xDom = [px(82.5), px(392)];
const ax = {
  showline: true, linecolor: '#000', linewidth: 1, mirror: true,
  ticks: 'outside', ticklen: 4.5, tickwidth: 1, tickcolor: '#000',
  showgrid: false, zeroline: false, fixedrange: true,
  tickfont: { family: FONT, size: 15, color: '#000' }
};
const span = valueMax - valueMin;
const colorscale = [
  [0, 'rgb(0,0,77)'],
  [(valueMin / 2 - valueMin) / span, 'rgb(0,0,255)'],
  [(0 - valueMin) / span, 'rgb(255,255,255)'],
  [(valueMax / 2 - valueMin) / span, 'rgb(255,0,0)'],
  [1, 'rgb(128,0,0)']
];

const layout = {
  width: W, height: H, margin: { l: 0, r: 0, t: 0, b: 0 },
  paper_bgcolor: '#fff', plot_bgcolor: '#fff', showlegend: false,
  font: { family: FONT, color: '#000' },
  xaxis:  Object.assign({}, ax, { domain: xDom, range: [-7.1, -3.907], tickvals: [-7, -6, -5, -4], anchor: 'y' }),
  yaxis:  Object.assign({}, ax, { domain: [py(380), py(73.7)], range: [-14.07, -8.906], tickvals: [-14, -13, -12, -11, -10, -9], anchor: 'x' }),
  xaxis2: Object.assign({}, ax, { domain: xDom, range: [-7.1, -3.907], tickvals: [-7, -6, -5, -4], anchor: 'y2' }),
  yaxis2: Object.assign({}, ax, { domain: [py(749.7), py(442.7)], range: [-0.049, 0.951], tickvals: [0, 0.2, 0.4, 0.6, 0.8], tickformat: '.1f', anchor: 'x2' }),
  xaxis3: Object.assign({}, ax, { domain: xDom, range: [-14.1, -8.9], tickvals: [-14, -13, -12, -11, -10, -9], anchor: 'y3' }),
  yaxis3: Object.assign({}, ax, { domain: [py(1118.3), py(811.7)], range: [-0.047, 0.951], tickvals: [0, 0.2, 0.4, 0.6, 0.8], tickformat: '.1f', anchor: 'x3' }),
  coloraxis: {
    cmin: valueMin, cmax: valueMax, colorscale: colorscale,
    colorbar: {
      x: px(421), xanchor: 'left', xpad: 0, ypad: 0,
      y: py((114 + 1065) / 2), yanchor: 'middle',
      len: (1065 - 114) / H, lenmode: 'fraction',
      thickness: 23, thicknessmode: 'pixels',
      outlinewidth: 1, outlinecolor: '#000',
      tickvals: cbarTicks, ticks: 'outside', ticklen: 4.5, tickwidth: 1, tickcolor: '#000',
      tickfont: { family: FONT, size: 15, color: '#000' }
    }
  },
  annotations: [
    { text: 'Enhanced transport in red', x: px(230), y: py(19), xref: 'paper', yref: 'paper', showarrow: false, xanchor: 'center', yanchor: 'middle', font: { family: FONT, size: 22.5, color: '#ff0000' } },
    { text: 'Delayed transport in blue', x: px(230), y: py(48), xref: 'paper', yref: 'paper', showarrow: false, xanchor: 'center', yanchor: 'middle', font: { family: FONT, size: 22.5, color: '#0000ff' } },
    { text: 'Log Diffusion Coefficient [m<sup>2</sup>/s]', x: px(237), y: py(421), xref: 'paper', yref: 'paper', showarrow: false, xanchor: 'center', yanchor: 'middle', font: { family: FONT, size: 20 } },
    { text: 'Log Diffusion Coefficient [m<sup>2</sup>/s]', x: px(237), y: py(791), xref: 'paper', yref: 'paper', showarrow: false, xanchor: 'center', yanchor: 'middle', font: { family: FONT, size: 20 } },
    { text: 'Log Dissolution Coefficient [m<sup>2</sup>/s]', x: px(237), y: py(1166), xref: 'paper', yref: 'paper', showarrow: false, xanchor: 'center', yanchor: 'middle', font: { family: FONT, size: 20 } },
    { text: 'Log Dissolution Coefficient [m<sup>2</sup>/s]', x: px(22), y: py(228), xref: 'paper', yref: 'paper', showarrow: false, textangle: -90, xanchor: 'center', yanchor: 'middle', font: { family: FONT, size: 20 } },
    { text: 'Saturation [-]', x: px(25), y: py(593), xref: 'paper', yref: 'paper', showarrow: false, textangle: -90, xanchor: 'center', yanchor: 'middle', font: { family: FONT, size: 20 } },
    { text: 'Saturation [-]', x: px(25), y: py(965), xref: 'paper', yref: 'paper', showarrow: false, textangle: -90, xanchor: 'center', yanchor: 'middle', font: { family: FONT, size: 20 } },
    { text: 'Transport Enhancement [log<sub>10</sub>(mol/m<sup>3</sup>)-day]', x: px(529), y: py(592), xref: 'paper', yref: 'paper', showarrow: false, textangle: -90, xanchor: 'center', yanchor: 'middle', font: { family: FONT, size: 20 } }
  ]
};

Plotly.newPlot('chart', traces, layout, { staticPlot: true, displayModeBar: false });
</script>
</body>
</html>
